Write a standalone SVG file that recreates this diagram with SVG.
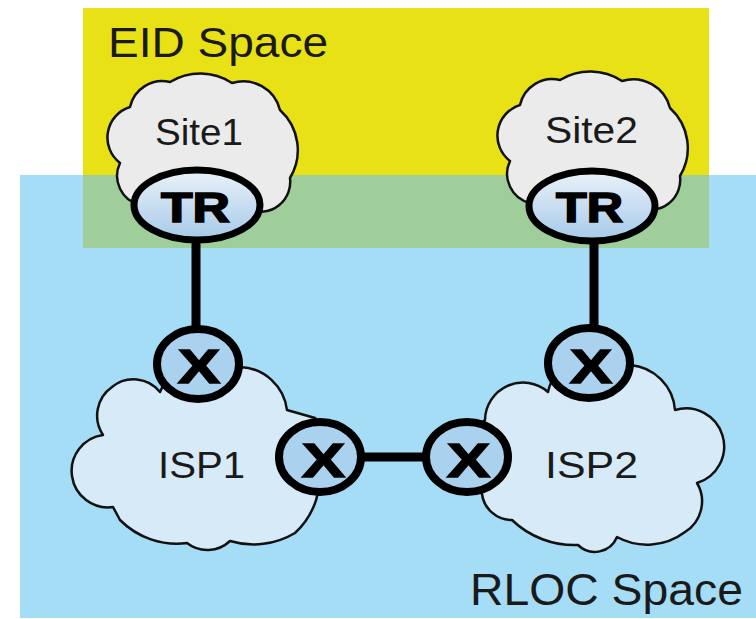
<svg xmlns="http://www.w3.org/2000/svg" width="756" height="619" viewBox="0 0 756 619">
<style>
.lbl{font-family:"Liberation Sans",Arial,sans-serif;fill:#1a1a1a;}
.big{font-size:42px;}
.mid{font-size:36px;}
.bold{font-family:"Liberation Sans",Arial,sans-serif;font-weight:bold;fill:#000;stroke:#000;stroke-width:1.6px;}
.site{fill:#EBEBEB;stroke:#111;stroke-width:2.5;stroke-linejoin:round;}
.isp{fill:#D7EAF8;stroke:#111;stroke-width:2.5;stroke-linejoin:round;}
.tr{fill:url(#trg);stroke:#000;stroke-width:7;}
.xn{fill:#AAD1EE;stroke:#000;stroke-width:8;}
.link{stroke:#000;stroke-width:9;fill:none;}
</style>
<defs>
<linearGradient id="trg" x1="0" y1="0" x2="0" y2="1">
<stop offset="0" stop-color="#EAF2F9"/>
<stop offset="1" stop-color="#A6C9E9"/>
</linearGradient>
<path id="sitecloud" d="M 140 205 A 30 30 0 0 1 120 163 A 32 32 0 0 1 130 107 A 33 33 0 0 1 170 82 A 58 58 0 0 1 232 83 A 38 38 0 0 1 280 110 A 54 54 0 0 1 290 178 A 30 30 0 0 1 250 210 Z"/>
</defs>
<rect width="756" height="619" fill="#fff"/>
<g id="eid-space">
<rect x="83" y="8" width="626" height="240" fill="#E7E115"/>
<text class="lbl big" x="108" y="57" textLength="220" lengthAdjust="spacingAndGlyphs">EID Space</text>
</g>
<g id="rloc-space">
<rect x="20" y="175" width="740" height="443" fill="#A5DCF6"/>
<rect x="83" y="175" width="626" height="73" fill="#9FCE9B"/>
<text class="lbl" style="font-size:45px" x="470" y="605" textLength="273" lengthAdjust="spacingAndGlyphs">RLOC Space</text>
</g>
<g id="site1">
<use href="#sitecloud" class="site"/>
<text class="lbl mid" x="155" y="145" textLength="88" lengthAdjust="spacingAndGlyphs">Site1</text>
</g>
<g id="site2">
<use href="#sitecloud" class="site" transform="translate(390,-2)"/>
<text class="lbl mid" x="545" y="143" textLength="93" lengthAdjust="spacingAndGlyphs">Site2</text>
</g>
<g id="isp1">
<path class="isp" d="M 318 460 A 77 77 0 0 1 295 533 A 81 81 0 0 1 230 541 A 33 33 0 0 1 187 543 A 80 80 0 0 1 120 520 L 113 507 A 36 36 0 0 1 103 435 A 35 35 0 0 1 112 387 A 34 34 0 0 1 160 392 A 55 55 0 0 1 240 367 A 49 49 0 0 1 287 410 L 315 418 A 25 25 0 0 1 318 460 Z"/>
<text class="lbl" style="font-size:37px" x="158" y="478" textLength="87" lengthAdjust="spacingAndGlyphs">ISP1</text>
</g>
<g id="isp2">
<path class="isp" d="M 482 494 A 50 50 0 0 1 485 420 A 38 38 0 0 1 548 392 A 50 50 0 0 1 630 365 A 49 49 0 0 1 675 410 A 38 38 0 0 1 697 483 A 36 36 0 0 1 685 532 A 63 63 0 0 1 617 537 A 24 24 0 0 1 578 545 A 90 90 0 0 1 512 520 A 30 30 0 0 1 482 494 Z"/>
<text class="lbl" style="font-size:37px" x="545" y="478" textLength="93" lengthAdjust="spacingAndGlyphs">ISP2</text>
</g>
<g id="connectors">
<line class="link" x1="196" y1="236" x2="196" y2="332"/>
<line class="link" x1="594" y1="238" x2="594" y2="330"/>
<line class="link" x1="360" y1="457" x2="428" y2="457"/>
</g>
<g id="tr1">
<ellipse class="tr" cx="197" cy="205" rx="63" ry="35"/>
<text class="bold" style="font-size:42px" x="161" y="222" textLength="69" lengthAdjust="spacingAndGlyphs">TR</text>
</g>
<g id="tr2">
<ellipse class="tr" cx="592" cy="206" rx="63" ry="35"/>
<text class="bold" style="font-size:42px" x="556" y="222" textLength="67" lengthAdjust="spacingAndGlyphs">TR</text>
</g>
<g id="x1">
<ellipse class="xn" cx="198" cy="364" rx="41" ry="35"/>
<text class="bold" style="font-size:48px" x="178" y="383" textLength="42" lengthAdjust="spacingAndGlyphs">X</text>
</g>
<g id="x2">
<ellipse class="xn" cx="320" cy="457" rx="41" ry="35"/>
<text class="bold" style="font-size:48px" x="302" y="477" textLength="43" lengthAdjust="spacingAndGlyphs">X</text>
</g>
<g id="x3">
<ellipse class="xn" cx="589" cy="363" rx="41" ry="35"/>
<text class="bold" style="font-size:48px" x="570" y="383" textLength="42" lengthAdjust="spacingAndGlyphs">X</text>
</g>
<g id="x4">
<ellipse class="xn" cx="467" cy="457" rx="41" ry="35"/>
<text class="bold" style="font-size:48px" x="447" y="477" textLength="43" lengthAdjust="spacingAndGlyphs">X</text>
</g>
</svg>
